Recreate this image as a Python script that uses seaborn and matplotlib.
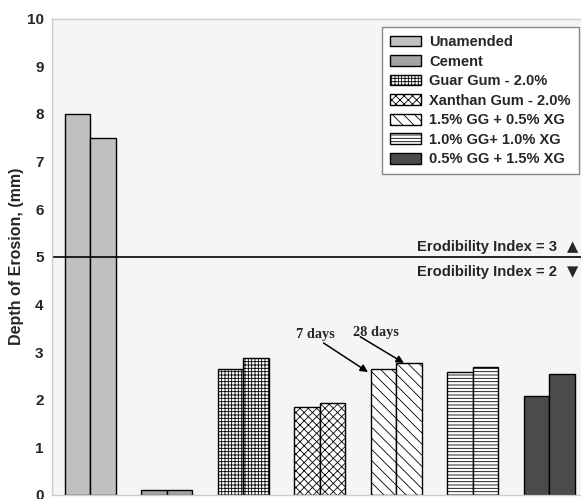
import pandas as pd
import matplotlib
matplotlib.use("Agg")
import matplotlib.pyplot as plt
import seaborn as sns
from matplotlib.patches import Patch

# data
treatments = ["Unamended", "Cement", "Guar Gum - 2.0%", "Xanthan Gum - 2.0%",
              "1.5% GG + 0.5% XG", "1.0% GG+ 1.0% XG", "0.5% GG + 1.5% XG"]
depth_7 = [8.0, 0.1, 2.65, 1.85, 2.65, 2.58, 2.07]
depth_28 = [7.5, 0.1, 2.87, 1.93, 2.77, 2.69, 2.54]
ages = ["7 days", "28 days"]

face_colors = ["#c0c0c0", "#a4a4a4", "white", "white", "white", "white", "#4b4b4b"]
hatches = ["", "", "+++++", "xxxx", "\\\\\\", "-----", ""]

df = pd.DataFrame({
    "treatment": treatments * 2,
    "age": [ages[0]] * len(treatments) + [ages[1]] * len(treatments),
    "depth": depth_7 + depth_28,
})

sns.set_style("white")
plt.rcParams["font.family"] = ["Liberation Sans", "DejaVu Sans"]
plt.rcParams["hatch.linewidth"] = 0.6

fig = plt.figure(figsize=(5.81, 4.99), dpi=100)
ax = fig.add_axes([52 / 581, 4 / 499, 535.5 / 581, 476.5 / 499])
ax.set_facecolor("#f5f5f5")

sns.barplot(data=df, x="treatment", y="depth", hue="age", order=treatments,
            hue_order=ages, width=0.67, errorbar=None, legend=False, ax=ax)

# colour / hatch each bar by treatment
for cont in ax.containers:
    for i, bar in enumerate(cont):
        bar.set_facecolor(face_colors[i])
        bar.set_edgecolor("black")
        bar.set_linewidth(1.0)
        bar.set_hatch(hatches[i])

ax.set_xlim(-0.5, 6.5)
ax.set_ylim(0, 10)
ax.set_xticks([])
ax.set_xlabel("")
ax.set_yticks(range(0, 11))
ax.set_yticks([v + 0.5 for v in range(10)], minor=True)
ax.tick_params(axis="y", which="major", length=0, pad=6, labelsize=11)
ax.tick_params(axis="y", which="minor", length=3, direction="in", color="#c8c8c8")
for lab in ax.get_yticklabels():
    lab.set_fontweight("bold")
ax.set_ylabel("Depth of Erosion, (mm)", fontsize=11.5, fontweight="bold")
ax.yaxis.set_label_coords(-0.052, 0.5)
for sp in ax.spines.values():
    sp.set_color("#cccccc")
    sp.set_linewidth(1.0)

# erodibility threshold
ax.axhline(5, color="black", lw=1.2)
ax.text(6.10, 5.21, "Erodibility Index = 3", ha="right", va="center",
        fontsize=10.6, fontweight="bold")
ax.text(6.10, 4.68, "Erodibility Index = 2", ha="right", va="center",
        fontsize=10.6, fontweight="bold")
ax.text(6.31, 5.21, "\u25B2", ha="center", va="center", fontsize=10.5,
        family=["DejaVu Sans"])
ax.text(6.31, 4.68, "\u25BC", ha="center", va="center", fontsize=10.5,
        family=["DejaVu Sans"])

# age annotations
arrow = dict(arrowstyle="-|>", color="black", lw=1.1, mutation_scale=11,
             shrinkA=0, shrinkB=0)
ax.annotate("", xy=(3.63, 2.58), xytext=(3.05, 3.19), arrowprops=arrow)
ax.annotate("", xy=(4.10, 2.77), xytext=(3.53, 3.32), arrowprops=arrow)
ax.text(2.94, 3.36, "7 days", ha="center", va="center", fontsize=10.3,
        fontweight="bold", family=["Liberation Serif"])
ax.text(3.73, 3.42, "28 days", ha="center", va="center", fontsize=10.3,
        fontweight="bold", family=["Liberation Serif"])

handles = [Patch(facecolor=face_colors[i], edgecolor="black", hatch=hatches[i],
                 linewidth=1.0) for i in range(len(treatments))]
leg = ax.legend(handles, treatments, loc="upper right", bbox_to_anchor=(0.984, 0.982),
                frameon=True, fancybox=False, edgecolor="#888888", framealpha=1,
                prop={"weight": "bold", "size": 10.5}, handlelength=2.1,
                handleheight=0.75, labelspacing=0.38, handletextpad=0.6,
                borderpad=0.55, borderaxespad=0)
leg.get_frame().set_linewidth(1.0)
leg.get_frame().set_facecolor("white")

fig.savefig("out.png", dpi=100)
